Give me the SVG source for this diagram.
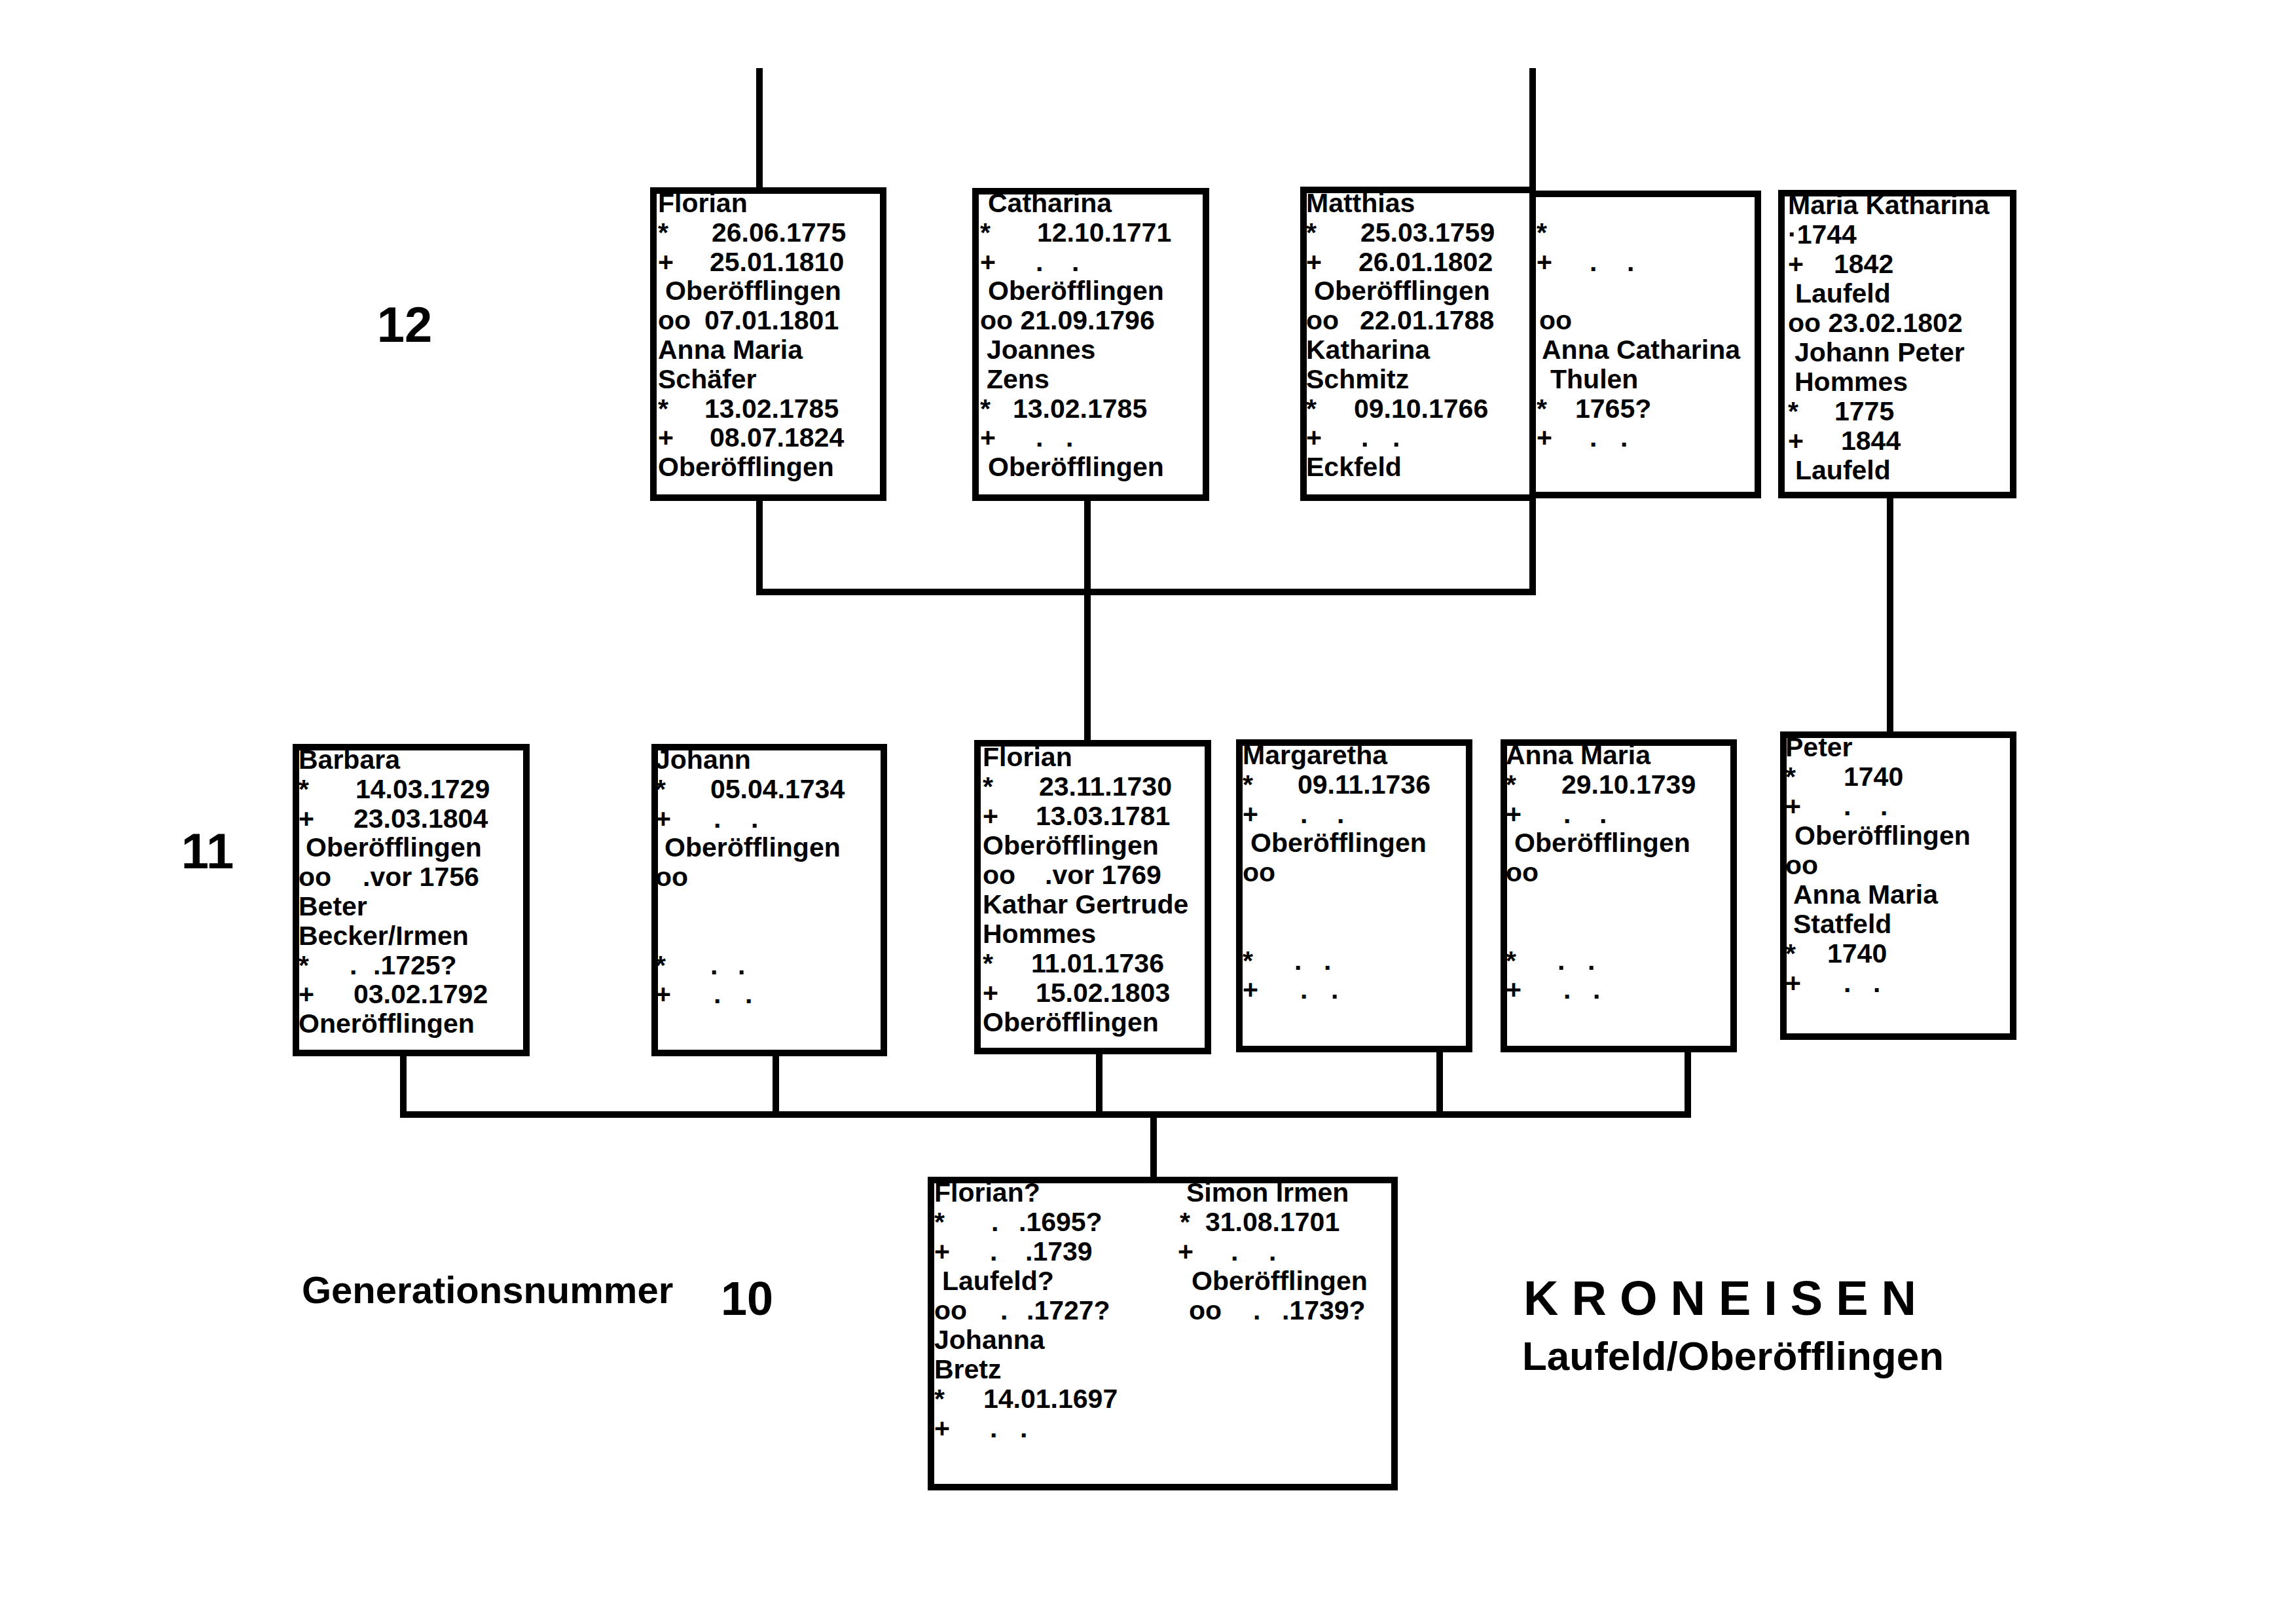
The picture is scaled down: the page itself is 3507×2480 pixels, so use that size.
<svg xmlns="http://www.w3.org/2000/svg" width="3507" height="2480" viewBox="0 0 3507 2480">
<style>
.box{fill:#fff;stroke:#000;stroke-width:10}
.c{stroke:#000;stroke-width:10;fill:none;stroke-linecap:square}
.t{font-family:"Liberation Sans",Arial,sans-serif;font-weight:bold;font-size:41px;fill:#000}
.lbl{font-family:"Liberation Sans",Arial,sans-serif;font-weight:bold;fill:#000}
</style>
<rect x="0" y="0" width="3507" height="2480" fill="#fff"/>
<g id="connectors">
<line class="c" x1="1160" y1="109" x2="1160" y2="291"/>
<line class="c" x1="2341" y1="109" x2="2341" y2="904"/>
<line class="c" x1="1160" y1="760" x2="1160" y2="904"/>
<line class="c" x1="1160" y1="904" x2="2341" y2="904"/>
<line class="c" x1="1661" y1="760" x2="1661" y2="1135"/>
<line class="c" x1="2887" y1="756" x2="2887" y2="1122"/>
<line class="c" x1="616" y1="1608" x2="616" y2="1702"/>
<line class="c" x1="1185" y1="1608" x2="1185" y2="1702"/>
<line class="c" x1="1679" y1="1605" x2="1679" y2="1702"/>
<line class="c" x1="2199" y1="1602" x2="2199" y2="1702"/>
<line class="c" x1="2578" y1="1602" x2="2578" y2="1702"/>
<line class="c" x1="616" y1="1702" x2="2578" y2="1702"/>
<line class="c" x1="1762" y1="1702" x2="1762" y2="1802"/>
</g>
<g id="florian-1775">
<rect class="box" x="998" y="291" width="351" height="469"/>
<text class="t" x="1005" y="324">Florian</text>
<text class="t" y="369"><tspan x="1005">*</tspan><tspan x="1087">26.06.1775</tspan></text>
<text class="t" y="414"><tspan x="1005">+</tspan><tspan x="1084">25.01.1810</tspan></text>
<text class="t" x="1016" y="458">Oberöfflingen</text>
<text class="t" y="503"><tspan x="1005">oo</tspan><tspan x="1076">07.01.1801</tspan></text>
<text class="t" x="1005" y="548">Anna Maria</text>
<text class="t" x="1005" y="593">Schäfer</text>
<text class="t" y="638"><tspan x="1005">*</tspan><tspan x="1076">13.02.1785</tspan></text>
<text class="t" y="682"><tspan x="1005">+</tspan><tspan x="1084">08.07.1824</tspan></text>
<text class="t" x="1005" y="727">Oberöfflingen</text>
</g>
<g id="catharina-1771">
<rect class="box" x="1490" y="292" width="352" height="468"/>
<text class="t" x="1509" y="324">Catharina</text>
<text class="t" y="369"><tspan x="1497">*</tspan><tspan x="1584">12.10.1771</tspan></text>
<text class="t" y="414"><tspan x="1497">+</tspan><tspan x="1582">.</tspan><tspan x="1637">.</tspan></text>
<text class="t" x="1509" y="458">Oberöfflingen</text>
<text class="t" x="1497" y="503">oo 21.09.1796</text>
<text class="t" x="1507" y="548">Joannes</text>
<text class="t" x="1507" y="593">Zens</text>
<text class="t" y="638"><tspan x="1497">*</tspan><tspan x="1547">13.02.1785</tspan></text>
<text class="t" y="682"><tspan x="1497">+</tspan><tspan x="1582">.</tspan><tspan x="1628">.</tspan></text>
<text class="t" x="1509" y="727">Oberöfflingen</text>
</g>
<g id="matthias-1759">
<rect class="box" x="1991" y="290" width="350" height="470"/>
<text class="t" x="1995" y="324">Matthias</text>
<text class="t" y="369"><tspan x="1995">*</tspan><tspan x="2078">25.03.1759</tspan></text>
<text class="t" y="414"><tspan x="1995">+</tspan><tspan x="2075">26.01.1802</tspan></text>
<text class="t" x="2007" y="458">Oberöfflingen</text>
<text class="t" y="503"><tspan x="1995">oo</tspan><tspan x="2077">22.01.1788</tspan></text>
<text class="t" x="1995" y="548">Katharina</text>
<text class="t" x="1995" y="593">Schmitz</text>
<text class="t" y="638"><tspan x="1995">*</tspan><tspan x="2068">09.10.1766</tspan></text>
<text class="t" y="682"><tspan x="1995">+</tspan><tspan x="2079">.</tspan><tspan x="2127">.</tspan></text>
<text class="t" x="1995" y="727">Eckfeld</text>
</g>
<g id="anna-catharina-thulen">
<rect class="box" x="2341" y="296" width="344" height="460"/>
<text class="t" x="2347" y="369">*</text>
<text class="t" y="414"><tspan x="2347">+</tspan><tspan x="2428">.</tspan><tspan x="2485">.</tspan></text>
<text class="t" x="2351" y="503">oo</text>
<text class="t" x="2355" y="548">Anna Catharina</text>
<text class="t" x="2368" y="593">Thulen</text>
<text class="t" y="638"><tspan x="2347">*</tspan><tspan x="2406">1765?</tspan></text>
<text class="t" y="682"><tspan x="2347">+</tspan><tspan x="2428">.</tspan><tspan x="2475">.</tspan></text>
</g>
<g id="maria-katharina-1744">
<rect class="box" x="2721" y="295" width="354" height="461"/>
<text class="t" x="2731" y="327">Maria Katharina</text>
<text class="t" x="2731" y="372">·1744</text>
<text class="t" y="417"><tspan x="2731">+</tspan><tspan x="2801">1842</tspan></text>
<text class="t" x="2742" y="462">Laufeld</text>
<text class="t" x="2731" y="507">oo 23.02.1802</text>
<text class="t" x="2741" y="552">Johann Peter</text>
<text class="t" x="2741" y="597">Hommes</text>
<text class="t" y="642"><tspan x="2731">*</tspan><tspan x="2802">1775</tspan></text>
<text class="t" y="687"><tspan x="2731">+</tspan><tspan x="2812">1844</tspan></text>
<text class="t" x="2742" y="732">Laufeld</text>
</g>
<g id="barbara-1729">
<rect class="box" x="452" y="1141" width="352" height="467"/>
<text class="t" x="456" y="1174">Barbara</text>
<text class="t" y="1219"><tspan x="456">*</tspan><tspan x="543">14.03.1729</tspan></text>
<text class="t" y="1264"><tspan x="456">+</tspan><tspan x="540">23.03.1804</tspan></text>
<text class="t" x="467" y="1308">Oberöfflingen</text>
<text class="t" y="1353"><tspan x="456">oo</tspan><tspan x="554">.vor 1756</tspan></text>
<text class="t" x="456" y="1398">Beter</text>
<text class="t" x="456" y="1443">Becker/Irmen</text>
<text class="t" y="1488"><tspan x="456">*</tspan><tspan x="534">.</tspan><tspan x="570">.1725?</tspan></text>
<text class="t" y="1532"><tspan x="456">+</tspan><tspan x="540">03.02.1792</tspan></text>
<text class="t" x="456" y="1577">Oneröfflingen</text>
</g>
<g id="johann-1734">
<rect class="box" x="1000" y="1141" width="350" height="467"/>
<text class="t" x="1001" y="1174">Johann</text>
<text class="t" y="1219"><tspan x="1001">*</tspan><tspan x="1085">05.04.1734</tspan></text>
<text class="t" y="1264"><tspan x="1001">+</tspan><tspan x="1090">.</tspan><tspan x="1147">.</tspan></text>
<text class="t" x="1015" y="1308">Oberöfflingen</text>
<text class="t" x="1001" y="1353">oo</text>
<text class="t" y="1488"><tspan x="1001">*</tspan><tspan x="1085">.</tspan><tspan x="1127">.</tspan></text>
<text class="t" y="1532"><tspan x="1001">+</tspan><tspan x="1090">.</tspan><tspan x="1138">.</tspan></text>
</g>
<g id="florian-1730">
<rect class="box" x="1493" y="1135" width="352" height="470"/>
<text class="t" x="1501" y="1170">Florian</text>
<text class="t" y="1215"><tspan x="1501">*</tspan><tspan x="1587">23.11.1730</tspan></text>
<text class="t" y="1260"><tspan x="1501">+</tspan><tspan x="1582">13.03.1781</tspan></text>
<text class="t" x="1501" y="1305">Oberöfflingen</text>
<text class="t" y="1350"><tspan x="1501">oo</tspan><tspan x="1596">.vor 1769</tspan></text>
<text class="t" x="1501" y="1395">Kathar Gertrude</text>
<text class="t" x="1501" y="1440">Hommes</text>
<text class="t" y="1485"><tspan x="1501">*</tspan><tspan x="1575">11.01.1736</tspan></text>
<text class="t" y="1530"><tspan x="1501">+</tspan><tspan x="1582">15.02.1803</tspan></text>
<text class="t" x="1501" y="1575">Oberöfflingen</text>
</g>
<g id="margaretha-1736">
<rect class="box" x="1893" y="1134" width="351" height="468"/>
<text class="t" x="1898" y="1167">Margaretha</text>
<text class="t" y="1212"><tspan x="1898">*</tspan><tspan x="1982">09.11.1736</tspan></text>
<text class="t" y="1257"><tspan x="1898">+</tspan><tspan x="1986">.</tspan><tspan x="2042">.</tspan></text>
<text class="t" x="1910" y="1301">Oberöfflingen</text>
<text class="t" x="1898" y="1346">oo</text>
<text class="t" y="1481"><tspan x="1898">*</tspan><tspan x="1977">.</tspan><tspan x="2022">.</tspan></text>
<text class="t" y="1525"><tspan x="1898">+</tspan><tspan x="1986">.</tspan><tspan x="2033">.</tspan></text>
</g>
<g id="anna-maria-1739">
<rect class="box" x="2297" y="1134" width="351" height="468"/>
<text class="t" x="2300" y="1167">Anna Maria</text>
<text class="t" y="1212"><tspan x="2300">*</tspan><tspan x="2385">29.10.1739</tspan></text>
<text class="t" y="1257"><tspan x="2300">+</tspan><tspan x="2388">.</tspan><tspan x="2443">.</tspan></text>
<text class="t" x="2313" y="1301">Oberöfflingen</text>
<text class="t" x="2300" y="1346">oo</text>
<text class="t" y="1481"><tspan x="2300">*</tspan><tspan x="2379">.</tspan><tspan x="2425">.</tspan></text>
<text class="t" y="1525"><tspan x="2300">+</tspan><tspan x="2388">.</tspan><tspan x="2433">.</tspan></text>
</g>
<g id="peter-1740">
<rect class="box" x="2724" y="1122" width="351" height="461"/>
<text class="t" x="2727" y="1155">Peter</text>
<text class="t" y="1200"><tspan x="2727">*</tspan><tspan x="2816">1740</tspan></text>
<text class="t" y="1245"><tspan x="2727">+</tspan><tspan x="2816">.</tspan><tspan x="2872">.</tspan></text>
<text class="t" x="2741" y="1290">Oberöfflingen</text>
<text class="t" x="2727" y="1335">oo</text>
<text class="t" x="2739" y="1380">Anna Maria</text>
<text class="t" x="2739" y="1425">Statfeld</text>
<text class="t" y="1470"><tspan x="2727">*</tspan><tspan x="2791">1740</tspan></text>
<text class="t" y="1515"><tspan x="2727">+</tspan><tspan x="2816">.</tspan><tspan x="2861">.</tspan></text>
</g>
<g id="florian-simon-1695">
<rect class="box" x="1422" y="1802" width="708" height="469"/>
<text class="t" x="1427" y="1835">Florian?</text>
<text class="t" y="1880"><tspan x="1427">*</tspan><tspan x="1514">.</tspan><tspan x="1556">.1695?</tspan></text>
<text class="t" y="1925"><tspan x="1427">+</tspan><tspan x="1512">.</tspan><tspan x="1566">.1739</tspan></text>
<text class="t" x="1439" y="1970">Laufeld?</text>
<text class="t" y="2015"><tspan x="1427">oo</tspan><tspan x="1528">.</tspan><tspan x="1568">.1727?</tspan></text>
<text class="t" x="1427" y="2060">Johanna</text>
<text class="t" x="1427" y="2105">Bretz</text>
<text class="t" y="2150"><tspan x="1427">*</tspan><tspan x="1502">14.01.1697</tspan></text>
<text class="t" y="2195"><tspan x="1427">+</tspan><tspan x="1512">.</tspan><tspan x="1558">.</tspan></text>
<text class="t" x="1812" y="1835">Simon Irmen</text>
<text class="t" y="1880"><tspan x="1802">*</tspan><tspan x="1841">31.08.1701</tspan></text>
<text class="t" y="1925"><tspan x="1799">+</tspan><tspan x="1880">.</tspan><tspan x="1938">.</tspan></text>
<text class="t" x="1820" y="1970">Oberöfflingen</text>
<text class="t" y="2015"><tspan x="1816">oo</tspan><tspan x="1914">.</tspan><tspan x="1958">.1739?</tspan></text>
</g>
<g id="labels">
<text class="lbl" x="618" y="522" font-size="76" text-anchor="middle">12</text>
<text class="lbl" x="317" y="1326" font-size="76" text-anchor="middle">11</text>
<text class="lbl" x="461" y="1990" font-size="58">Generationsnummer</text>
<text class="lbl" x="1141" y="2008" font-size="72" text-anchor="middle">10</text>
<text class="lbl" x="2327" y="2008" font-size="74" letter-spacing="20">KRONEISEN</text>
<text class="lbl" x="2325" y="2092" font-size="62">Laufeld/Oberöfflingen</text>
</g>
</svg>
